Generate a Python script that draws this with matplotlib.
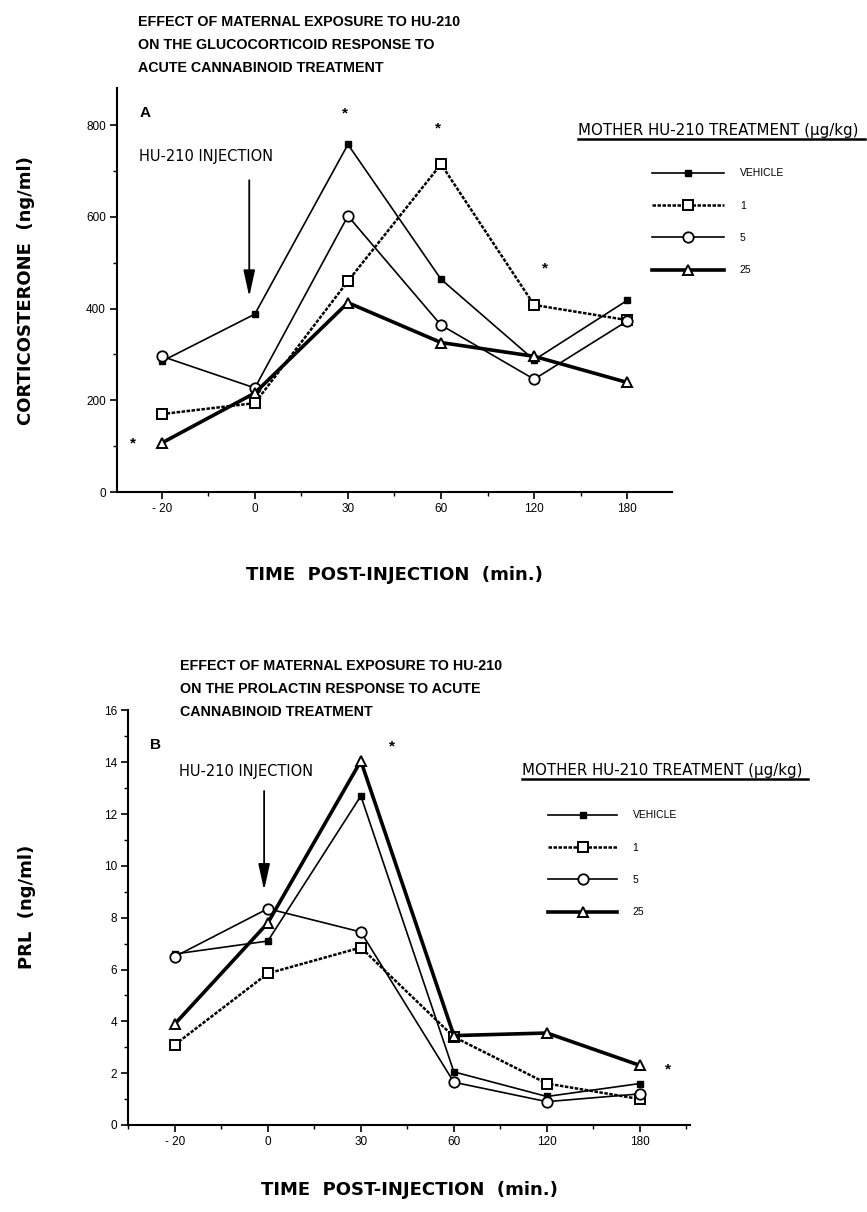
import matplotlib
matplotlib.use('Agg')
import matplotlib.pyplot as plt
from matplotlib.lines import Line2D

plt.rcParams['font.family'] = ['Liberation Sans', 'DejaVu Sans']

times = ['- 20', '0', '30', '60', '120', '180']
groups = ['VEHICLE', '1', '5', '25']

# panel A: corticosterone (ng/ml)
cort_vehicle = [285, 388, 758, 464, 288, 418]
cort_1 = [170, 194, 460, 715, 408, 375]
cort_5 = [296, 227, 602, 364, 246, 373]
cort_25 = [107, 216, 413, 326, 296, 239]

# panel B: prolactin (ng/ml)
prl_vehicle = [6.6, 7.1, 12.7, 2.05, 1.1, 1.6]
prl_1 = [3.1, 5.85, 6.85, 3.4, 1.6, 1.0]
prl_5 = [6.5, 8.35, 7.45, 1.65, 0.9, 1.2]
prl_25 = [3.9, 7.8, 14.05, 3.45, 3.55, 2.3]

styles = [
    dict(marker='s', ms=5, mfc='black', mec='black', lw=1.2, ls='-'),
    dict(marker='s', ms=7.5, mfc='white', mec='black', mew=1.4, lw=1.8, ls=(0, (1.4, 0.6))),
    dict(marker='o', ms=7.5, mfc='white', mec='black', mew=1.3, lw=1.2, ls='-'),
    dict(marker='^', ms=7.5, mfc='white', mec='black', mew=1.4, lw=2.6, ls='-'),
]

fig = plt.figure(figsize=(8.67, 12.12), dpi=100)
axA = fig.add_axes([0.135, 0.594, 0.640, 0.333])
axB = fig.add_axes([0.148, 0.0718, 0.648, 0.342])

x = list(range(len(times)))
label_font = dict(family='DejaVu Sans', fontweight='bold')


def style_axis(ax, yticks, yminor, ylim, xlim):
    for s in ['top', 'right']:
        ax.spines[s].set_visible(False)
    for s in ['left', 'bottom']:
        ax.spines[s].set_linewidth(1.5)
    ax.set_xticks(x)
    ax.set_xticklabels(times, fontsize=8.5)
    ax.set_xticks([i + 0.5 for i in range(-1, len(times))], minor=True)
    ax.set_yticks(yticks)
    ax.set_yticks(yminor, minor=True)
    ax.tick_params(axis='both', which='major', length=5, width=1.2, labelsize=8.5, pad=3)
    ax.tick_params(axis='both', which='minor', length=3, width=1.0)
    ax.set_ylim(*ylim)
    ax.set_xlim(*xlim)


series_A = [cort_vehicle, cort_1, cort_5, cort_25]
series_B = [prl_vehicle, prl_1, prl_5, prl_25]

handles = []
for vals, st, lab in zip(series_A, styles, groups):
    h, = axA.plot(x, vals, color='black', label=lab, clip_on=False, **st)
    handles.append(h)
for vals, st, lab in zip(series_B, styles, groups):
    axB.plot(x, vals, color='black', label=lab, clip_on=False, **st)

style_axis(axA, [0, 200, 400, 600, 800], [100, 300, 500, 700], (0, 880), (-0.48, 5.48))
style_axis(axB, list(range(0, 17, 2)), list(range(1, 16, 2)), (0, 16), (-0.5, 5.54))

axA.set_ylabel('CORTICOSTERONE  (ng/ml)', fontsize=13, **label_font)
axB.set_ylabel('PRL  (ng/ml)', fontsize=13, **label_font)
axA.yaxis.set_label_coords(-0.164, 0.5)
axB.yaxis.set_label_coords(-0.181, 0.525)
axA.set_xlabel('TIME  POST-INJECTION  (min.)', fontsize=13, **label_font)
axB.set_xlabel('TIME  POST-INJECTION  (min.)', fontsize=13, **label_font)
axA.xaxis.set_label_coords(0.50, -0.205)
axB.xaxis.set_label_coords(0.50, -0.157)
axA.xaxis.label.set_va('center')
axB.xaxis.label.set_va('center')
axA.yaxis.label.set_va('center')
axB.yaxis.label.set_va('center')

fig.text(138 / 867, 1 - 15 / 1212, 'EFFECT OF MATERNAL EXPOSURE TO HU-210\nON THE GLUCOCORTICOID RESPONSE TO\nACUTE CANNABINOID TREATMENT',
         fontsize=10.3, fontweight='bold', va='top', ha='left', linespacing=1.8)
fig.text(180 / 867, 1 - 659 / 1212, 'EFFECT OF MATERNAL EXPOSURE TO HU-210\nON THE PROLACTIN RESPONSE TO ACUTE\nCANNABINOID TREATMENT',
         fontsize=10.3, fontweight='bold', va='top', ha='left', linespacing=1.8)

axA.text(-0.24, 826, 'A', fontsize=11, fontweight='bold', va='center')
axB.text(-0.27, 14.65, 'B', fontsize=11, fontweight='bold', va='center')

axA.text(-0.24, 732, 'HU-210 INJECTION', fontsize=10.5, family='DejaVu Sans', va='center')
axB.text(0.05, 13.65, 'HU-210 INJECTION', fontsize=10.5, family='DejaVu Sans', va='center')
axA.annotate('', xy=(0.94, 420), xytext=(0.94, 686),
             arrowprops=dict(arrowstyle='-|>,head_length=1.6,head_width=0.35', color='black', lw=1.3))
axB.annotate('', xy=(0.96, 8.95), xytext=(0.96, 13.0),
             arrowprops=dict(arrowstyle='-|>,head_length=1.6,head_width=0.35', color='black', lw=1.3))

# significance marks
for xs, ys in [(-0.31, 105), (1.97, 826), (2.97, 793), (4.12, 488)]:
    axA.text(xs, ys, '*', fontsize=11, fontweight='bold', ha='center', va='center')
for xs, ys in [(2.33, 14.6), (5.3, 2.15)]:
    axB.text(xs, ys, '*', fontsize=11, fontweight='bold', ha='center', va='center')

# legends
for hx, hy, ux0, ux1, uy, lx, ly, hl in [
        (578, 130, 578, 865, 139, 647, 163, 6.9),
        (522, 770, 522, 808, 779, 543, 805, 6.6)]:
    fig.text(hx / 867, 1 - hy / 1212, 'MOTHER HU-210 TREATMENT (\u00b5g/kg)', fontsize=10.8,
             family='DejaVu Sans', va='center', ha='left')
    fig.add_artist(Line2D([ux0 / 867, ux1 / 867], [1 - uy / 1212, 1 - uy / 1212], color='black', lw=1.8))
    fig.legend(handles=handles, loc='upper left', bbox_to_anchor=(lx / 867, 1 - ly / 1212),
               bbox_transform=fig.transFigure, frameon=False, fontsize=7.5, borderpad=0,
               handlelength=hl, handletextpad=1.5, labelspacing=2.15)

fig.savefig('out.png', dpi=100)
